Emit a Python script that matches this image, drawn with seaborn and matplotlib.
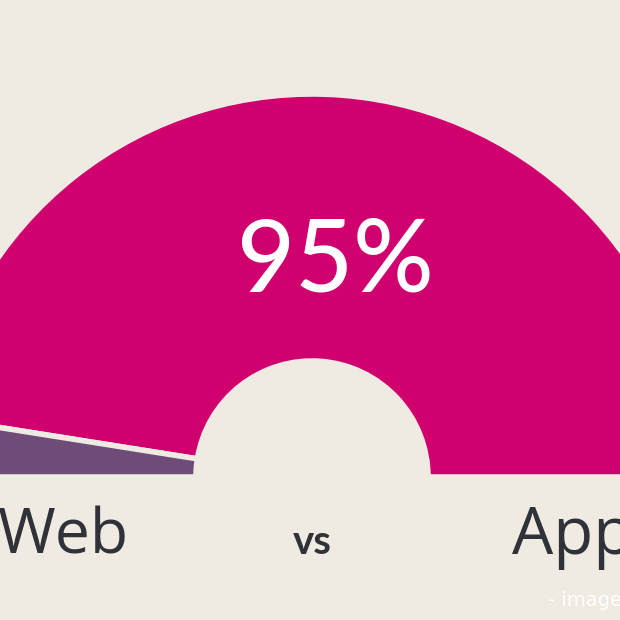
import matplotlib
matplotlib.use("Agg")
import matplotlib.pyplot as plt
import seaborn as sns

categories = ["App", "Web", "hidden"]
shares = [95, 5, 100]
colors = ["#D1006F", "#6E4C77"]
big_label = "95%"
left_label = "Web"
mid_label = "vs"
right_label = "App"
note = "- image"

BG = "#EFEAE2"
INK = "#2F3238"

sns.set_theme(style="white")
plt.rcParams["font.family"] = ["Open Sans", "DejaVu Sans"]

fig = plt.figure(figsize=(6.2, 6.2), dpi=100, facecolor=BG)
ax = fig.add_axes([0, 0, 1, 1], facecolor=BG)

wedges, _ = ax.pie(
    shares,
    colors=colors + [BG],
    startangle=0,
    counterclock=False,
    center=(312, 477),
    radius=383,
    frame=True,
    wedgeprops=dict(width=267, edgecolor=BG, linewidth=4),
)
wedges[2].set_visible(False)
ax.set_xlim(0, 620)
ax.set_ylim(620, 0)
ax.set_aspect("auto")
ax.axis("off")

ax.text(335, 291, big_label, color="white", fontsize=72, family=["Lato"], fontweight="medium", ha="center", va="baseline")
ax.text(-3, 553, left_label, color=INK, fontsize=45, fontweight="medium", ha="left", va="baseline")
ax.text(312, 554, mid_label, color=INK, fontsize=29, family=["Lato"], fontweight="bold", ha="center", va="baseline")
ax.text(512, 554, right_label, color=INK, fontsize=47, fontweight="medium", ha="left", va="baseline")
ax.text(548, 606, note, color="white", fontsize=14, ha="left", va="baseline", family="DejaVu Sans")

fig.savefig("out.png", dpi=100, facecolor=BG)
